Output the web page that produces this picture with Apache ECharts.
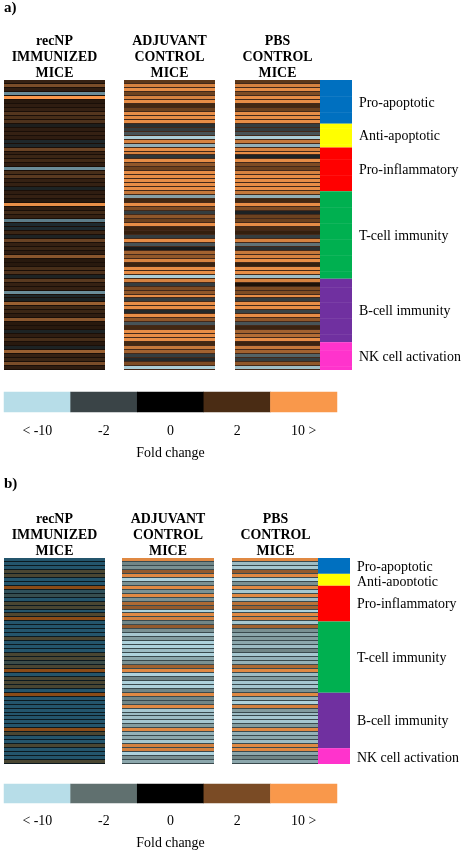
<!DOCTYPE html>
<html><head><meta charset="utf-8">
<style>html,body{margin:0;padding:0;background:#fff}#c{width:465px;height:851px;filter:blur(0.45px)}</style>
<script src="https://cdn.jsdelivr.net/npm/echarts@6/dist/echarts.min.js"></script>
</head><body><div id="c"></div>
<script>
// Scale: -2 "< -10", -1 "-2", 0 "0", 1 "2", 2 "10 >"
const legendLabels = ['< -10','-2','0','2','10 >'];
const legendLevels = [-2,-1,0,1,2];
const legendTitle = 'Fold change';
const columnTitles = ['recNP\nIMMUNIZED\nMICE','ADJUVANT\nCONTROL\nMICE','PBS\nCONTROL\nMICE'];
const groupNames = ['Pro-apoptotic','Anti-apoptotic','Pro-inflammatory','T-cell immunity','B-cell immunity','NK cell activation'];
const groupColors = ['#0070c0','#ffff00','#ff0000','#00b050','#7030a0','#ff33cc'];
const groupCountsA = [11,6,11,22,16,7];
const groupCountsB = [4,3,9,18,14,4];

const recNP_A = [.4,1.2,.3,-1.5,2,.2,.3,.4,.9,.7,.8,-.3,.3,.4,.3,-.5,-.5,1.1,.4,.5,.6,.3,-1.5,.7,1,.4,.4,-.4,.3,.4,.2,1.9,.3,.6,.4,-1.4,
 -.6,-.6,.5,-.4,1.1,.4,.5,.3,1.3,.2,.2,.7,.8,-.4,1,.4,.4,-1.5,-.5,-.4,1.4,.6,.5,.3,1.3,.2,.2,-.4,.3,.7,.2,-.4,1.4,.4,.5,1.2,.3];
const adjuvant_A = [1.1,1.8,1.9,1.2,1.8,1.9,.9,1.2,1.9,1.9,1.9,-.7,-.9,-1.1,-1.9,1.8,-1.7,1.9,1.8,-.8,1.9,1.4,1.2,1.9,1.9,1.9,1.9,1.9,1.7,-1.6,.9,1.9,1.3,-.9,1.4,1.2,
 1.9,.8,.7,-.9,1.9,-1.1,-.4,1.5,1.4,1.8,.8,1.9,1.9,-1.9,1.8,-.9,1.3,1.4,1.9,-.9,1.9,1.9,-.6,1.9,1.4,-1.1,.9,1.9,1.9,1.9,.9,1.7,1.5,-.9,-.6,1.3,-1.9];
const pbs_A = [1.1,1.8,1.9,1.3,1.9,1.9,.9,1.2,1.9,1.9,1.9,-.9,-.9,-1.1,-1.9,1.7,-1.7,1.8,1.9,-.5,1.9,1.3,1.2,1.8,1.9,1.9,1.9,1.9,1.7,-1.7,.9,1.9,1.3,-.5,1.2,1.2,
 1.9,1,.7,-.9,1.8,-1.3,-.7,1.7,1.8,1.9,.7,1.9,1.9,-1.8,1.8,.4,1.3,1.3,1.9,-.9,1.9,1.9,-1,1.9,1.4,-1.1,.8,1.5,1.6,1.9,.8,1.7,1.5,-1.2,-.9,1.4,-1.8];

const recNP_B = [-1,-1,-1,0,0,-1,-1,1,-.7,-.5,-1,0,0,-1,.1,1,-1,-1,-1,-1,0,-1,-1,-1,0,0,
 -.4,0,1,-1,0,0,0,-1,1,-1,-1,-1,-1,-1,-1,-1,-1,1,0,-1,-1,0,-1,-1,-1,0];
const adjuvant_B = [1.8,-1.2,-1.3,1.2,1.8,-1.9,-1.3,1.8,-1.3,1.8,-1.3,1.4,1.2,-1.9,1.8,1.7,-1.2,1.2,-1.3,-1.8,-1.4,-1.9,-1.9,-1.7,-1.9,-1.5,
 -1.3,1.3,1.8,-1.9,-1.2,-1.9,-1.9,-1.2,1.8,-1.2,-1.2,1.8,-1.8,-1.7,-1.7,-1.8,-1.4,1.8,-1.6,-1.5,-1.8,1.7,1.7,-1.9,-1.3,-1.5];
const pbs_B = [1.8,-1.7,-1.8,1.2,1.8,-1.9,-1.3,1.8,-1.8,1.8,-1.7,1.5,1.3,-1.9,1.8,1.7,-1.8,1.3,-1.3,-1.5,-1.4,-1.5,-1.7,-1.2,-1.8,-1.6,
 -1.6,1.4,1.8,-1.7,-1.4,-1.8,-1.8,-1.3,1.8,-1.6,-1.9,1.7,-1.4,-1.7,-1.8,-1.8,-1.4,1.8,-1.6,-1.5,-1.7,1.8,1.8,-1.5,-1.2,-1.5];

const rampA = ['#b7dde8','#3a4447','#000000','#4a2c14','#f9984b'];
const rampB = ['#b7dde8','#60706f','#000000','#7a4b25','#f9984b'];
const rampRecA = ['#b7dde8','#1f3d4a','#1c110a','#5a3a20','#f9984b'];
const rampRecB = ['#24556c','#4a4632','#8b4b17'];
const FONT = '"Liberation Serif","Times New Roman",serif';

const grids=[],xAxes=[],yAxes=[],series=[],visualMaps=[];
function addGrid(box,bg){
  grids.push({left:box[0],top:box[1],width:box[2],height:box[3],show:!!bg,backgroundColor:bg||'transparent',borderWidth:0});
  return grids.length-1;
}
function stripeItem(params,api){
  const p=api.coord([0,api.value(1)]), s=api.size([1,1]);
  const top=Math.round(p[1]-s[1]/2), bottom=Math.round(p[1]+s[1]/2);
  return {type:'rect',shape:{x:p[0]-s[0]/2,y:top,width:s[0],height:bottom-top-1},style:{fill:api.visual('color')}};
}
function addColumn(values,box,ramp,min,max,bg){
  const g=addGrid(box,bg);
  xAxes.push({gridIndex:g,type:'category',data:['c'],show:false});
  yAxes.push({gridIndex:g,type:'category',data:values.map((_,i)=>i),inverse:true,show:false});
  const si=series.length;
  series.push({type:'custom',xAxisIndex:g,yAxisIndex:g,encode:{x:0,y:1},silent:true,animation:false,clip:true,
    renderItem:stripeItem,data:values.map((v,i)=>[0,i,v])});
  visualMaps.push({show:false,type:'continuous',seriesIndex:si,dimension:2,min:min,max:max,inRange:{color:ramp}});
}
function addStrip(counts,box,labelGap,labelShift,tickEvery){
  const total=counts.reduce((a,b)=>a+b,0);
  const g=addGrid(box);
  xAxes.push({gridIndex:g,type:'category',data:['c'],show:false});
  yAxes.push({gridIndex:g,type:'category',data:Array.from({length:total},(_,i)=>i),inverse:true,show:false});
  let start=0; const data=counts.map((c,i)=>{const d=[0,start,c,i];start+=c;return d;});
  series.push({type:'custom',xAxisIndex:g,yAxisIndex:g,silent:true,animation:false,clip:false,encode:{x:0,y:1},data:data,
    renderItem(params,api){
      const st=api.value(1),p=api.coord([0,st]), s=api.size([1,1]), n=api.value(2), i=api.value(3);
      const y=p[1]-s[1]/2,h=s[1]*n,x=p[0]-s[0]/2;
      const kids=[{type:'rect',shape:{x:x,y:y,width:s[0],height:h},style:{fill:groupColors[i]}}];
      if(tickEvery){
        for(let r=st+1;r<st+n;r++) if(r%tickEvery===0){
          const ly=Math.round(y+(r-st)*s[1])+.5;
          kids.push({type:'line',shape:{x1:x,y1:ly,x2:x+s[0],y2:ly},style:{stroke:'rgba(255,255,255,0.07)',lineWidth:1}});
        }
      }
      kids.push({type:'text',style:{text:groupNames[i],x:x+s[0]+labelGap,y:y+h/2+labelShift[i],verticalAlign:'middle',align:'left',fill:'#000',font:'13.9px '+FONT}});
      return {type:'group',children:kids};
    }});
}
function addLegend(box,ramp,labelMargin,nameGap){
  const g=addGrid(box);
  xAxes.push({gridIndex:g,type:'category',data:legendLabels,position:'bottom',
    axisLine:{show:false},axisTick:{show:false},
    axisLabel:{show:true,interval:0,margin:labelMargin,color:'#000',fontFamily:FONT,fontSize:13.9},
    name:legendTitle,nameLocation:'middle',nameGap:nameGap,nameTextStyle:{color:'#000',fontFamily:FONT,fontSize:13.9}});
  yAxes.push({gridIndex:g,type:'category',data:['r'],show:false});
  const si=series.length;
  series.push({type:'heatmap',xAxisIndex:g,yAxisIndex:g,silent:true,animation:false,
    data:legendLevels.map((v,i)=>[i,0,v]),itemStyle:{borderWidth:0},emphasis:{disabled:true}});
  visualMaps.push({show:false,type:'continuous',seriesIndex:si,dimension:2,min:-2,max:2,inRange:{color:ramp}});
}

// Panel a
addColumn(recNP_A,[4,80,101,290],rampRecA,-2,2,'#1a0f08');
addColumn(adjuvant_A,[124,80,91,290],rampA,-2,2,'#43291a');
addColumn(pbs_A,[235,80,85,290],rampA,-2,2,'#43291a');
addStrip(groupCountsA,[320,80,32,290],7,[1.5,1,1,1,.5,1],4);
addLegend([4,392,333,20],rampA,12,34);
// Panel b
addColumn(recNP_B,[4,558,101,206],rampRecB,-1,1,'#0c1a20');
addColumn(adjuvant_B,[122,558,92,206],rampB,-2,2,'#3a4a4e');
addColumn(pbs_B,[232,558,86,206],rampB,-2,2,'#3a4a4e');
addStrip(groupCountsB,[318,558,32,206],7,[1,3,1,1,1,2],0);
addLegend([4,784,333,22],rampB,11,33);

const titleAt=[[54.5,33.5],[169.5,33.5],[277.5,33.5],[54.5,511.5],[168,511.5],[275.5,511.5]];
const graphicEls=titleAt.map((t,i)=>({type:'text',x:t[0],y:t[1],z:50,
  style:{text:columnTitles[i%3],align:'center',verticalAlign:'top',lineHeight:16,fill:'#000',font:'bold 13.9px '+FONT}}));
graphicEls.push({type:'text',x:4,y:1,z:50,style:{text:'a)',fill:'#000',font:'bold 15px '+FONT}});
graphicEls.push({type:'text',x:4,y:477,z:50,style:{text:'b)',fill:'#000',font:'bold 15px '+FONT}});
graphicEls.push({type:'rect',z:60,shape:{x:352,y:586,width:113,height:8},style:{fill:'#fff'}});

const chart=echarts.init(document.getElementById('c'),null,{renderer:'canvas'});
chart.setOption({animation:false,backgroundColor:'#fff',grid:grids,xAxis:xAxes,yAxis:yAxes,visualMap:visualMaps,series:series,graphic:graphicEls});
</script></body></html>
